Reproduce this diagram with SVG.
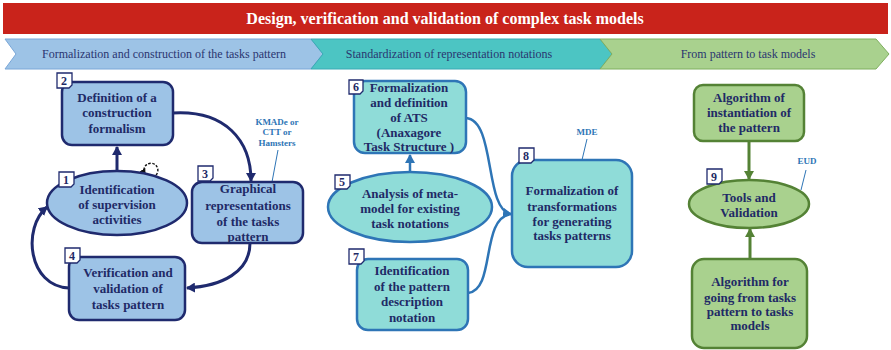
<svg xmlns="http://www.w3.org/2000/svg" width="891" height="350" viewBox="0 0 891 350">
<style>
.t{font-family:"Liberation Serif","Times New Roman",serif;font-weight:bold;font-size:13px;fill:#1f2a66;text-anchor:middle}
.ch{font-family:"Liberation Serif","Times New Roman",serif;font-size:12px;fill:#2a3570;text-anchor:middle}
.an{font-family:"Liberation Serif","Times New Roman",serif;font-weight:bold;font-size:9px;fill:#2e75b6;text-anchor:middle}
.bn{fill:#9dc3e6;stroke:#1f2a6e;stroke-width:2.5}
.tn{fill:#8fdcd8;stroke:#2e75b6;stroke-width:2.5}
.gn{fill:#a9d18e;stroke:#548235;stroke-width:2.5}
.bdg{fill:#fff;stroke:#1f2a6e;stroke-width:1.3}
.bt{font-family:"Liberation Serif","Times New Roman",serif;font-weight:bold;font-size:12px;fill:#1f2a66;text-anchor:middle}
.cb{fill:none;stroke:#1f2a6e;stroke-width:3}
.ct{fill:none;stroke:#2e75b6;stroke-width:2.5}
.cg{fill:none;stroke:#548235;stroke-width:3}
.al{stroke:#2e75b6;stroke-width:1}
</style>
<defs>
<marker id="ab" markerWidth="10" markerHeight="10" refX="8" refY="5" orient="auto" markerUnits="userSpaceOnUse"><path d="M0,0 L9,5 L0,10 Z" fill="#1f2a6e"/></marker>
<marker id="at" markerWidth="10" markerHeight="10" refX="8" refY="5" orient="auto" markerUnits="userSpaceOnUse"><path d="M0,0 L9,5 L0,10 Z" fill="#2e75b6"/></marker>
<marker id="ag" markerWidth="10" markerHeight="10" refX="8" refY="5" orient="auto" markerUnits="userSpaceOnUse"><path d="M0,0 L9,5 L0,10 Z" fill="#548235"/></marker>
<marker id="ak" markerWidth="7" markerHeight="7" refX="5" refY="3.5" orient="auto-start-reverse" markerUnits="userSpaceOnUse"><path d="M0,0 L6,3.5 L0,7 Z" fill="#111"/></marker>
</defs>
<rect width="891" height="350" fill="#fff"/>
<!-- header -->
<rect x="3" y="3" width="885" height="31" fill="#c9231b"/>
<text x="445" y="24" font-family="Liberation Serif, Times New Roman, serif" font-weight="bold" font-size="16" fill="#fff" text-anchor="middle">Design, verification and validation of complex task models</text>
<polygon points="5,39 311,39 323,54 311,69 5,69 16,54" fill="#9dc3e6" stroke="#7aa7d8" stroke-width="1"/>
<polygon points="311,39 600,39 612,54 600,69 311,69 323,54" fill="#4cc5c3" stroke="#3aa9b5" stroke-width="1"/>
<polygon points="600,39 876,39 889,54 876,69 600,69 612,54" fill="#a9d18e" stroke="#7faf5f" stroke-width="1"/>
<text class="ch" x="164" y="58">Formalization and construction of the tasks pattern</text>
<text class="ch" x="449" y="58">Standardization of representation notations</text>
<text class="ch" x="748" y="58">From pattern to task models</text>
<!-- connectors -->
<g id="connectors">
<path class="cb" d="M117,170 L117,147" marker-end="url(#ab)"/>
<path class="cb" d="M173,113 C 225,110 251,140 251,181" marker-end="url(#ab)"/>
<path class="cb" d="M250,243 C 250,272 222,286 187,288" marker-end="url(#ab)"/>
<path class="cb" d="M69,288 C 28,286 22,228 47,207" marker-end="url(#ab)"/>
<path d="M145,174 A7,7 0 1 1 156,175" fill="none" stroke="#111" stroke-width="1.4" stroke-dasharray="2.5,1.5" marker-start="url(#ak)"/>
<path class="ct" d="M410,172 L410,155" marker-end="url(#at)"/>
<path class="ct" d="M466,118 C 496,120 484,210 511,214" marker-end="url(#at)"/>
<path class="ct" d="M468,293 C 496,290 480,218 511,214"/>
<path class="cg" d="M749,141 L749,179" marker-end="url(#ag)"/>
<path class="cg" d="M750,259 L750,229" marker-end="url(#ag)"/>
<line class="al" x1="278" y1="150" x2="272" y2="182"/>
<line class="al" x1="587" y1="139" x2="582" y2="160"/>
<line class="al" x1="806" y1="170" x2="801" y2="190"/>
</g>
<text class="an" x="277" y="125">KMADe or</text>
<text class="an" x="277" y="135">CTT or</text>
<text class="an" x="277" y="146">Hamsters</text>
<text class="an" x="587" y="135" font-weight="normal">MDE</text>
<text class="an" x="807" y="164" font-weight="normal">EUD</text>
<!-- nodes -->
<g id="n2">
<rect class="bn" x="62" y="82" width="111" height="63" rx="10"/>
<text class="t" x="117" y="102">Definition of a</text>
<text class="t" x="117" y="117">construction</text>
<text class="t" x="117" y="133">formalism</text>
<path class="bdg" d="M57,73 H72 V85 L69,88 H57 Z"/><text class="bt" x="64" y="85">2</text>
</g>
<g id="n1">
<ellipse class="bn" cx="117" cy="203" rx="70" ry="32"/>
<text class="t" x="117" y="194">Identification</text>
<text class="t" x="117" y="209">of supervision</text>
<text class="t" x="117" y="224">activities</text>
<path class="bdg" d="M59,172 H74 V184 L71,187 H59 Z"/><text class="bt" x="66" y="184">1</text>
</g>
<g id="n3">
<rect class="bn" x="192" y="182" width="111" height="61" rx="10"/>
<text class="t" x="248" y="193">Graphical</text>
<text class="t" x="248" y="210">representations</text>
<text class="t" x="248" y="226">of the tasks</text>
<text class="t" x="248" y="241">pattern</text>
<path class="bdg" d="M198,166 H213 V178 L210,181 H198 Z"/><text class="bt" x="205" y="178">3</text>
</g>
<g id="n4">
<rect class="bn" x="69" y="257" width="116" height="63" rx="10"/>
<text class="t" x="128" y="277">Verification and</text>
<text class="t" x="128" y="293">validation of</text>
<text class="t" x="128" y="309">tasks pattern</text>
<path class="bdg" d="M65,248 H80 V260 L77,263 H65 Z"/><text class="bt" x="72" y="260">4</text>
</g>
<g id="n6">
<rect class="tn" x="354" y="81" width="112" height="72" rx="11"/>
<text class="t" x="409" y="92">Formalization</text>
<text class="t" x="409" y="107">and definition</text>
<text class="t" x="409" y="122">of ATS</text>
<text class="t" x="409" y="137">(Anaxagore</text>
<text class="t" x="409" y="151">Task Structure )</text>
<path class="bdg" d="M349,80 H363 V91 L360,94 H349 Z"/><text class="bt" x="356" y="91">6</text>
</g>
<g id="n5">
<ellipse class="tn" cx="410" cy="207" rx="82" ry="35"/>
<text class="t" x="410" y="198">Analysis of meta-</text>
<text class="t" x="410" y="213">model for existing</text>
<text class="t" x="410" y="228">task notations</text>
<path class="bdg" d="M335,175 H350 V186 L347,189 H335 Z"/><text class="bt" x="342" y="186">5</text>
</g>
<g id="n7">
<rect class="tn" x="357" y="259" width="111" height="71" rx="11"/>
<text class="t" x="412" y="275">Identification</text>
<text class="t" x="412" y="291">of the pattern</text>
<text class="t" x="412" y="306">description</text>
<text class="t" x="412" y="322">notation</text>
<path class="bdg" d="M349,249 H364 V261 L361,264 H349 Z"/><text class="bt" x="356" y="261">7</text>
</g>
<g id="n8">
<rect class="tn" x="512" y="160" width="120" height="107" rx="16"/>
<text class="t" x="572" y="195">Formalization of</text>
<text class="t" x="572" y="211">transformations</text>
<text class="t" x="572" y="226">for generating</text>
<text class="t" x="572" y="240">tasks patterns</text>
<path class="bdg" d="M519,148 H534 V160 L531,163 H519 Z"/><text class="bt" x="526" y="160">8</text>
</g>
<g id="n_inst">
<rect class="gn" x="694" y="85" width="110" height="56" rx="9"/>
<text class="t" x="749" y="102">Algorithm of</text>
<text class="t" x="749" y="117">instantiation of</text>
<text class="t" x="749" y="132">the pattern</text>
</g>
<g id="n9">
<ellipse class="gn" cx="749" cy="204" rx="60" ry="24"/>
<text class="t" x="749" y="202">Tools and</text>
<text class="t" x="749" y="217">Validation</text>
<path class="bdg" d="M707,169 H722 V181 L719,184 H707 Z"/><text class="bt" x="714" y="181">9</text>
</g>
<g id="n_algo">
<rect class="gn" x="692" y="259" width="115" height="89" rx="12"/>
<text class="t" x="750" y="286">Algorithm for</text>
<text class="t" x="750" y="302">going from tasks</text>
<text class="t" x="750" y="316">pattern to tasks</text>
<text class="t" x="750" y="330">models</text>
</g>
</svg>
